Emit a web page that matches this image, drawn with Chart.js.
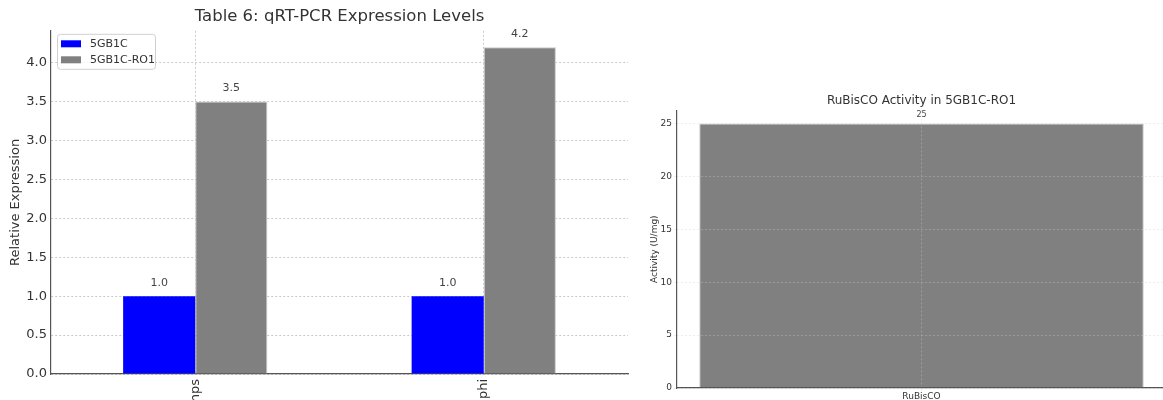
<!DOCTYPE html>
<html>
<head>
<meta charset="utf-8">
<script src="https://cdn.jsdelivr.net/npm/chart.js@4/dist/chart.umd.min.js"></script>
<style>
    html, body { margin: 0; padding: 0; background: #fff; overflow: hidden; width: 1163px; height: 400px; }
    #left { position: absolute; left: 0; top: 0; width: 640px; height: 400px; }
    #right { position: absolute; left: 640px; top: 0; width: 540px; height: 400px; }
</style>
</head>
<body>
<div id="left"><canvas id="expressionChart"></canvas></div>
<div id="right"><canvas id="activityChart"></canvas></div>

<script>
// ================= DATA =================
const genes = ["hps", "phi"];
const seriesNames = ["5GB1C", "5GB1C-RO1"];
const wildTypeLevels = [1.0, 1.0];
const engineeredLevels = [3.5, 4.2];

const enzymes = ["RuBisCO"];
const activityValues = [25];

const FONT = "'DejaVu Sans', sans-serif";
const TEXT = "#333";
const SPINE = "#555";
const GRID = "rgba(190,190,190,0.8)";
const FAINT = "rgba(205,205,205,0.35)";


// ================= PLUGINS =================
// value text above every bar
const barLabels = {
    id: "barLabels",
    afterDatasetsDraw(chart, args, opts) {
        const ctx = chart.ctx;
        ctx.save();
        ctx.font = opts.size + "px " + FONT;
        ctx.fillStyle = "#444";
        ctx.textAlign = "center";
        ctx.textBaseline = "middle";
        chart.data.datasets.forEach((ds, i) => {
            chart.getDatasetMeta(i).data.forEach((bar, j) => {
                ctx.fillText(opts.format(ds.data[j]), bar.x, bar.y - opts.offset);
            });
        });
        ctx.restore();
    }
};

// legend box in the upper left of the plot
const boxLegend = {
    id: "boxLegend",
    afterDatasetsDraw(chart) {
        const ctx = chart.ctx;
        const area = chart.chartArea;
        const x = area.left + 6, y = area.top + 3, w = 98, h = 35;
        ctx.save();
        ctx.fillStyle = "rgba(255,255,255,0.8)";
        ctx.strokeStyle = "#d0d0d0";
        ctx.lineWidth = 1;
        ctx.beginPath();
        ctx.roundRect(x + 0.5, y + 0.5, w, h, 3);
        ctx.fill();
        ctx.stroke();
        ctx.font = "11px " + FONT;
        ctx.textBaseline = "middle";
        chart.data.datasets.forEach((ds, i) => {
            const cy = y + 10 + i * 16;
            ctx.fillStyle = ds.backgroundColor;
            ctx.fillRect(x + 4, cy - 3.5, 20, 7);
            ctx.fillStyle = TEXT;
            ctx.fillText(ds.label, x + 33, cy);
        });
        ctx.restore();
    }
};

// x labels turned to read upwards, like the original
const upLabels = {
    id: "upLabels",
    afterDraw(chart) {
        const ctx = chart.ctx;
        const xs = chart.scales.x;
        ctx.save();
        ctx.font = "13px " + FONT;
        ctx.fillStyle = TEXT;
        ctx.textAlign = "right";
        ctx.textBaseline = "middle";
        chart.data.labels.forEach((lab, i) => {
            ctx.save();
            ctx.translate(xs.getPixelForTick(i), chart.chartArea.bottom + 5);
            ctx.rotate(-Math.PI / 2);
            ctx.fillText(lab, 0, 0);
            ctx.restore();
        });
        ctx.restore();
    }
};


// ================= LEFT CHART =================
new Chart(document.getElementById("expressionChart"), {
    type: "bar",
    data: {
        labels: genes,
        datasets: [
            { label: seriesNames[0], data: wildTypeLevels, backgroundColor: "#0000ff" },
            { label: seriesNames[1], data: engineeredLevels, backgroundColor: "#808080",
              borderColor: "#c8c8c8", borderWidth: 1 }
        ]
    },
    options: {
        responsive: true,
        maintainAspectRatio: false,
        animation: false,
        layout: { padding: { right: 12 } },
        datasets: { bar: { categoryPercentage: 0.5, barPercentage: 1.0 } },
        plugins: {
            legend: { display: false },
            tooltip: { enabled: false },
            title: {
                display: true,
                fullSize: false,
                text: "Table 6: qRT-PCR Expression Levels",
                color: TEXT,
                font: { family: FONT, size: 16.5, weight: "normal" },
                padding: { top: 7, bottom: 4 }
            },
            barLabels: { size: 11, offset: 13, format: v => v.toFixed(1) }
        },
        scales: {
            x: {
                ticks: { display: false },
                grid: { offset: false, drawTicks: false, color: GRID },
                border: { color: SPINE, width: 1.2, dash: [2, 2] },
                afterFit(scale) { scale.height = 26; }
            },
            y: {
                min: 0,
                max: 4.41,
                ticks: {
                    stepSize: 0.5,
                    includeBounds: false,
                    padding: 4,
                    color: TEXT,
                    font: { family: FONT, size: 13 },
                    callback: v => v.toFixed(1)
                },
                grid: { drawTicks: false, color: GRID },
                border: { color: SPINE, width: 1.2, dash: [2, 2] },
                title: {
                    display: true,
                    text: "Relative Expression",
                    color: TEXT,
                    font: { family: FONT, size: 13 },
                    padding: { top: 8, bottom: 0 }
                },
                afterFit(scale) { scale.width = 51; }
            }
        }
    },
    plugins: [barLabels, boxLegend, upLabels]
});


// ================= RIGHT CHART =================
new Chart(document.getElementById("activityChart"), {
    type: "bar",
    data: {
        labels: enzymes,
        datasets: [
            { label: "Activity", data: activityValues, backgroundColor: "#808080",
              borderColor: "#c8c8c8", borderWidth: 1 }
        ]
    },
    options: {
        responsive: true,
        maintainAspectRatio: false,
        animation: false,
        layout: { padding: { top: 94, right: 14 } },
        datasets: { bar: { categoryPercentage: 0.909, barPercentage: 1.0 } },
        plugins: {
            legend: { display: false },
            tooltip: { enabled: false },
            title: {
                display: true,
                fullSize: false,
                text: "RuBisCO Activity in 5GB1C-RO1",
                color: TEXT,
                font: { family: FONT, size: 12, weight: "normal" },
                padding: { top: 0, bottom: 2 }
            },
            barLabels: { size: 8, offset: 9, format: v => String(v) }
        },
        scales: {
            x: {
                ticks: { color: TEXT, font: { family: FONT, size: 9 }, padding: 0 },
                grid: { offset: false, tickLength: 3, color: FAINT, z: 1 },
                border: { color: SPINE, width: 1.2, dash: [2, 2], z: 2 },
                afterFit(scale) { scale.height = 12; }
            },
            y: {
                min: 0,
                max: 26.25,
                ticks: {
                    stepSize: 5,
                    includeBounds: false,
                    padding: 2,
                    color: TEXT,
                    font: { family: FONT, size: 9 }
                },
                grid: { tickLength: 3, color: FAINT, z: 1 },
                border: { color: SPINE, width: 1.2, dash: [2, 2], z: 2 },
                title: {
                    display: true,
                    text: "Activity (U/mg)",
                    color: TEXT,
                    font: { family: FONT, size: 9 },
                    padding: { top: 9, bottom: 0 }
                },
                afterFit(scale) { scale.width = 37; }
            }
        }
    },
    plugins: [barLabels]
});
</script>
</body>
</html>
